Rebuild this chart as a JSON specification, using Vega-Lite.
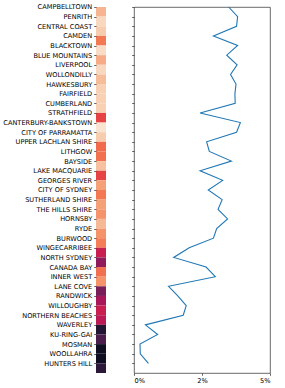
{
  "$schema": "https://vega.github.io/schema/vega-lite/v6.json",
  "padding": {"left": 2, "top": 3, "right": 5, "bottom": 5},
  "bounds": "flush",
  "spacing": 28,
  "config": {
    "view": {"stroke": null},
    "font": "DejaVu Sans",
    "axis": {
      "labelFont": "DejaVu Sans",
      "labelFontSize": 6.6,
      "labelColor": "#000",
      "tickColor": "#222",
      "tickSize": 2.3,
      "tickWidth": 0.7,
      "labelPadding": 2,
      "title": null,
      "grid": false,
      "domain": false
    }
  },
  "data": {
    "values": [
      {"name": "CAMPBELLTOWN", "heat": 0.86, "pct": 0.0348},
      {"name": "PENRITH", "heat": 0.95, "pct": 0.0381},
      {"name": "CENTRAL COAST", "heat": 0.92, "pct": 0.0377},
      {"name": "CAMDEN", "heat": 0.72, "pct": 0.0292},
      {"name": "BLACKTOWN", "heat": 0.96, "pct": 0.0381},
      {"name": "BLUE MOUNTAINS", "heat": 0.84, "pct": 0.0341},
      {"name": "LIVERPOOL", "heat": 0.95, "pct": 0.0379},
      {"name": "WOLLONDILLY", "heat": 0.88, "pct": 0.0355},
      {"name": "HAWKESBURY", "heat": 0.93, "pct": 0.0375},
      {"name": "FAIRFIELD", "heat": 0.93, "pct": 0.0371},
      {"name": "CUMBERLAND", "heat": 0.93, "pct": 0.0372},
      {"name": "STRATHFIELD", "heat": 0.6, "pct": 0.0243},
      {"name": "CANTERBURY-BANKSTOWN", "heat": 0.98, "pct": 0.0391},
      {"name": "CITY OF PARRAMATTA", "heat": 0.92, "pct": 0.0377},
      {"name": "UPPER LACHLAN SHIRE", "heat": 0.69, "pct": 0.0267},
      {"name": "LITHGOW", "heat": 0.7, "pct": 0.0277},
      {"name": "BAYSIDE", "heat": 0.89, "pct": 0.0358},
      {"name": "LAKE MACQUARIE", "heat": 0.6, "pct": 0.0243},
      {"name": "GEORGES RIVER", "heat": 0.81, "pct": 0.0326},
      {"name": "CITY OF SYDNEY", "heat": 0.72, "pct": 0.0273},
      {"name": "SUTHERLAND SHIRE", "heat": 0.81, "pct": 0.0324},
      {"name": "THE HILLS SHIRE", "heat": 0.78, "pct": 0.0309},
      {"name": "HORNSBY", "heat": 0.87, "pct": 0.0344},
      {"name": "RYDE", "heat": 0.78, "pct": 0.0304},
      {"name": "BURWOOD", "heat": 0.73, "pct": 0.0292},
      {"name": "WINGECARRIBEE", "heat": 0.5, "pct": 0.0203},
      {"name": "NORTH SYDNEY", "heat": 0.36, "pct": 0.0146},
      {"name": "CANADA BAY", "heat": 0.7, "pct": 0.0265},
      {"name": "INNER WEST", "heat": 0.78, "pct": 0.0299},
      {"name": "LANE COVE", "heat": 0.31, "pct": 0.0127},
      {"name": "RANDWICK", "heat": 0.42, "pct": 0.0161},
      {"name": "WILLOUGHBY", "heat": 0.5, "pct": 0.0192},
      {"name": "NORTHERN BEACHES", "heat": 0.46, "pct": 0.0181},
      {"name": "WAVERLEY", "heat": 0.09, "pct": 0.0042},
      {"name": "KU-RING-GAI", "heat": 0.2, "pct": 0.0087},
      {"name": "MOSMAN", "heat": 0.03, "pct": 0.0022},
      {"name": "WOOLLAHRA", "heat": 0.03, "pct": 0.0023},
      {"name": "HUNTERS HILL", "heat": 0.12, "pct": 0.0053}
    ]
  },
  "hconcat": [
    {
      "width": 10,
      "height": 366,
      "mark": {"type": "rect"},
      "encoding": {
        "y": {
          "field": "name",
          "type": "nominal",
          "sort": null,
          "scale": {"type": "band", "paddingInner": 0, "paddingOuter": 0},
          "axis": {"bandPosition": 0.5, "tickOffset": -4.82}
        },
        "color": {
          "field": "heat",
          "type": "quantitative",
          "scale": {
            "domain": [0, 0.142857, 0.285714, 0.428571, 0.571429, 0.714286, 0.857143, 1],
            "range": ["#03051a", "#35193e", "#701f57", "#ad1759", "#e13342", "#f37651", "#f6b48f", "#faebdd"]
          },
          "legend": null
        }
      }
    },
    {
      "width": 136,
      "height": 366,
      "view": {"stroke": "#444", "strokeWidth": 0.8},
      "mark": {"type": "line", "color": "#1f77b4", "strokeWidth": 1.1},
      "encoding": {
        "y": {
          "field": "name",
          "type": "nominal",
          "sort": null,
          "scale": {"type": "point", "padding": 0.5, "align": 0},
          "axis": {"labels": false}
        },
        "x": {
          "field": "pct",
          "type": "quantitative",
          "scale": {"domain": [0, 0.05], "nice": false},
          "axis": {"values": [0, 0.025, 0.05], "labelExpr": "floor(datum.value * 100 + 0.000001) + '%'"}
        },
        "order": {"value": null}
      }
    }
  ]
}
